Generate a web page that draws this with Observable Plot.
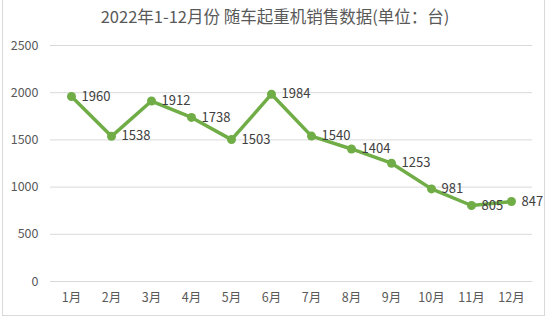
<!DOCTYPE html>
<html><head><meta charset="utf-8">
<script src="https://cdn.jsdelivr.net/npm/d3@7"></script>
<script src="https://cdn.jsdelivr.net/npm/@observablehq/plot@0.6"></script>
<style>
body{margin:0;background:#fff;}
#wrap{position:relative;width:550px;height:319px;overflow:hidden;}
#frame{position:absolute;left:2px;top:-2px;width:543px;height:318px;border:1px solid #d9d9d9;box-sizing:border-box;pointer-events:none;}
#title{height:32px;line-height:32px;text-align:center;font-family:"Noto Sans CJK SC","Noto Sans",sans-serif;font-size:16.5px;color:#595959;}
</style></head>
<body><div id="wrap"><div id="title">2022年1-12月份 随车起重机销售数据(单位：台)</div><div id="chart"></div><div id="frame"></div></div>
<script>
const months = ["1月","2月","3月","4月","5月","6月","7月","8月","9月","10月","11月","12月"];
const sales = [1960,1538,1912,1738,1503,1984,1540,1404,1253,981,805,847];
const yTicks = [0,500,1000,1500,2000,2500];
const data = months.map((m,i)=>({month:m, value:sales[i]}));
const font = "'Noto Sans CJK SC','Noto Sans',sans-serif";
const chart = Plot.plot({
  width:550, height:287,
  marginTop:13, marginBottom:38, marginLeft:50, marginRight:18,
  style:{fontFamily:font, fontSize:"12.5px", color:"#595959", background:"transparent"},
  x:{type:"point", domain:months, padding:0.5, label:null, tickSize:0, tickPadding:12},
  y:{domain:[0,2500], ticks:yTicks, tickFormat:d=>String(d), label:null, tickSize:0, tickPadding:12},
  marks:[
    Plot.gridY(yTicks,{stroke:"#d9d9d9", strokeOpacity:1, strokeWidth:1}),
    Plot.line(data,{x:"month", y:"value", stroke:"#70AD47", strokeWidth:3.5, strokeLinejoin:"round"}),
    Plot.dot(data,{x:"month", y:"value", r:4.5, fill:"#70AD47", stroke:null}),
    Plot.text(data,{x:"month", y:"value", text:d=>String(d.value), dx:10, textAnchor:"start", fill:"#404040", fontSize:13})
  ]
});
document.getElementById("chart").append(chart);
</script></body></html>
